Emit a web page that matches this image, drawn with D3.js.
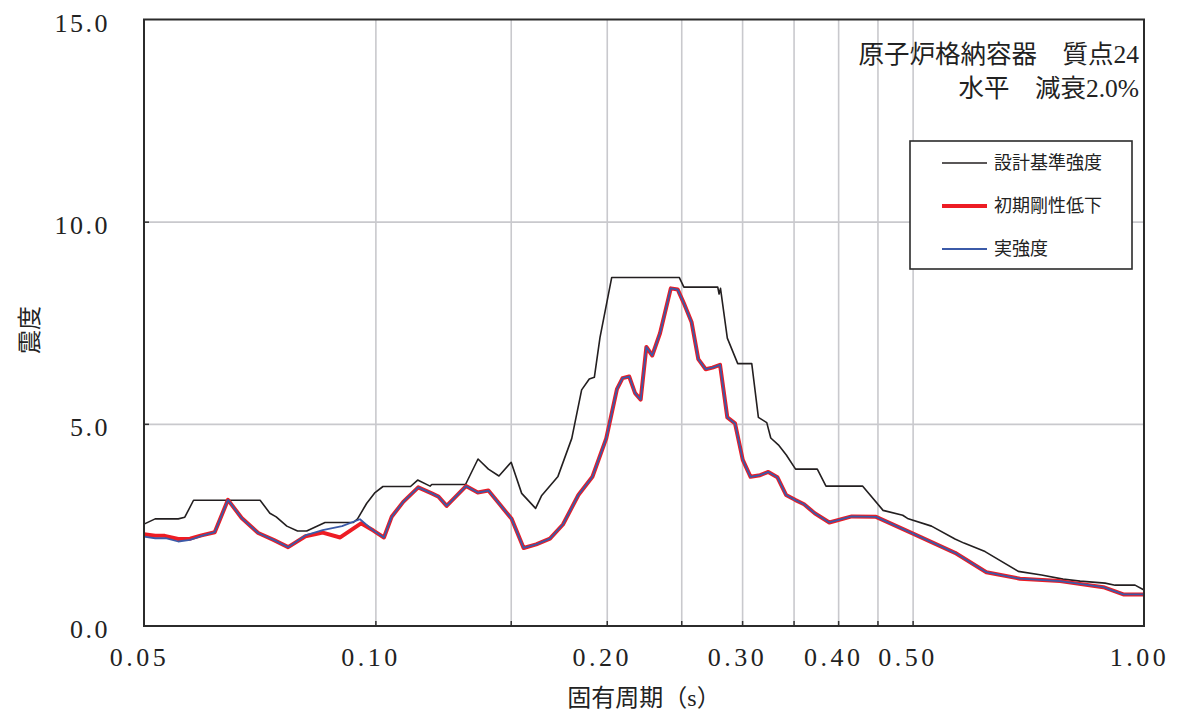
<!DOCTYPE html>
<html>
<head>
<meta charset="utf-8">
<script src="https://cdnjs.cloudflare.com/ajax/libs/d3/7.8.5/d3.min.js"></script>
<style>
  body { margin: 0; background: #fff; }
  svg text { fill: #222; }
  .num { font-family: "Liberation Serif", "Noto Sans CJK JP", serif; }
  .jp { font-family: "Liberation Serif", "Noto Sans CJK JP", sans-serif; }
</style>
</head>
<body>
<script>
// 設計基準強度
const designT = [0.05,0.0517,0.0554,0.0565,0.058,0.0708,0.0729,0.0743,0.0767,0.0792,0.0814,0.086,0.0936,0.0948,0.0974,0.0999,0.1023,0.1111,0.1135,0.1178,0.1184,0.131,0.136,0.1403,0.1448,0.1502,0.155,0.1616,0.1646,0.1728,0.1801,0.1855,0.1898,0.1927,0.196,0.203,0.2485,0.252,0.2789,0.28,0.2812,0.287,0.2961,0.3088,0.315,0.323,0.3269,0.3344,0.3425,0.3521,0.3758,0.3857,0.4303,0.4576,0.4854,0.4924,0.5291,0.5677,0.5832,0.6212,0.6862,0.7357,0.7847,0.8257,0.89,0.9171,0.9735,1.0];
const designV = [2.52,2.65,2.65,2.69,3.11,3.11,2.79,2.70,2.47,2.35,2.35,2.56,2.56,2.65,3.03,3.30,3.45,3.45,3.61,3.46,3.50,3.50,4.13,3.88,3.71,4.05,3.28,2.91,3.23,3.70,4.64,5.84,6.11,6.15,7.14,8.62,8.62,8.38,8.38,8.21,8.35,7.12,6.49,6.49,5.16,5.03,4.65,4.48,4.23,3.88,3.88,3.46,3.46,2.86,2.74,2.66,2.47,2.15,2.05,1.84,1.35,1.26,1.16,1.11,1.06,1.01,1.01,0.89];

// 初期剛性低下
const initialT = [0.05,0.0517,0.0532,0.0554,0.0574,0.0594,0.0618,0.0643,0.067,0.0704,0.0737,0.077,0.0811,0.0854,0.09,0.0958,0.0994,0.1026,0.105,0.1087,0.1137,0.1184,0.1208,0.1238,0.1312,0.1359,0.1403,0.1454,0.1504,0.1559,0.1619,0.1687,0.1754,0.1837,0.1916,0.1997,0.2062,0.2097,0.2139,0.2177,0.2214,0.2252,0.2292,0.2346,0.2423,0.2474,0.252,0.2579,0.2631,0.269,0.2745,0.2808,0.287,0.2937,0.3006,0.3077,0.3166,0.3245,0.3334,0.3422,0.3516,0.3612,0.3729,0.3896,0.4166,0.4481,0.4998,0.5677,0.6236,0.6898,0.7777,0.8855,0.94,1.0];
const initialV = [2.27,2.23,2.23,2.15,2.16,2.24,2.32,3.12,2.67,2.30,2.13,1.95,2.22,2.31,2.19,2.54,2.36,2.19,2.70,3.07,3.43,3.28,3.20,2.97,3.46,3.30,3.35,2.99,2.65,1.93,2.02,2.16,2.51,3.24,3.69,4.64,5.86,6.13,6.17,5.76,5.60,6.90,6.69,7.24,8.35,8.32,7.98,7.51,6.60,6.35,6.39,6.46,5.16,5.01,4.11,3.69,3.73,3.81,3.68,3.24,3.12,3.01,2.79,2.56,2.71,2.70,2.29,1.81,1.33,1.17,1.11,0.96,0.78,0.78];

// 実強度
const actualT = [0.05,0.0517,0.0535,0.0554,0.0574,0.0594,0.0618,0.0643,0.067,0.0704,0.0737,0.077,0.0811,0.0854,0.0905,0.0955,0.0994,0.1026,0.105,0.1087,0.1137,0.1184,0.1208,0.1238,0.1312,0.1359,0.1403,0.1454,0.1504,0.1559,0.1619,0.1687,0.1754,0.1837,0.1916,0.1997,0.2062,0.2097,0.2139,0.2177,0.2214,0.2252,0.2292,0.2346,0.2423,0.2474,0.252,0.2579,0.2631,0.269,0.2745,0.2808,0.287,0.2937,0.3006,0.3077,0.3166,0.3245,0.3334,0.3422,0.3516,0.3612,0.3729,0.3896,0.4166,0.4481,0.4998,0.5677,0.6236,0.6898,0.7777,0.8855,0.94,1.0];
const actualV = [2.21,2.17,2.17,2.09,2.13,2.23,2.32,3.12,2.67,2.30,2.13,1.95,2.24,2.37,2.47,2.64,2.36,2.19,2.70,3.07,3.43,3.28,3.20,2.97,3.46,3.30,3.35,2.99,2.65,1.93,2.02,2.16,2.51,3.24,3.69,4.64,5.86,6.13,6.17,5.76,5.60,6.90,6.69,7.24,8.35,8.32,7.98,7.51,6.60,6.35,6.39,6.46,5.16,5.01,4.11,3.69,3.73,3.81,3.68,3.24,3.12,3.01,2.79,2.56,2.71,2.70,2.29,1.81,1.33,1.17,1.11,0.96,0.78,0.78];

const gridT = [0.10,0.15,0.20,0.25,0.30,0.35,0.40,0.45,0.50];
const labelT = [0.05,0.10,0.20,0.30,0.40,0.50,1.00];
const gridY = [5,10];
const labelY = [0,5,10,15];
const legendNames = ['設計基準強度','初期剛性低下','実強度'];
const titleLines = ['原子炉格納容器　質点24','水平　減衰2.0%'];

const width = 1180, height = 720;
const pLeft = 144, pRight = 1144, pTop = 19.5, pBottom = 626;

const svg = d3.select('body').append('svg')
    .attr('width', width)
    .attr('height', height);

const x = d3.scaleLog().domain([0.05, 1]).range([pLeft, pRight]);
const y = d3.scaleLinear().domain([0, 15]).range([pBottom, pTop]);

// grid
svg.append('g')
    .attr('transform', 'translate(0,' + pBottom + ')')
    .call(d3.axisBottom(x).tickValues(gridT).tickSize(-(pBottom - pTop)).tickFormat(''))
    .call(g => g.select('.domain').remove())
    .call(g => g.selectAll('line').attr('stroke', '#c9c9cd').attr('stroke-width', 1.6));

svg.append('g')
    .attr('transform', 'translate(' + pLeft + ',0)')
    .call(d3.axisLeft(y).tickValues(gridY).tickSize(-(pRight - pLeft)).tickFormat(''))
    .call(g => g.select('.domain').remove())
    .call(g => g.selectAll('line').attr('stroke', '#c9c9cd').attr('stroke-width', 1.6));

// short inner ticks
svg.append('g')
    .attr('transform', 'translate(0,' + pBottom + ')')
    .call(d3.axisBottom(x).tickValues(gridT).tickSize(-5).tickFormat(''))
    .call(g => g.select('.domain').remove())
    .call(g => g.selectAll('line').attr('stroke', '#333').attr('stroke-width', 1.5));

svg.append('g')
    .attr('transform', 'translate(' + pLeft + ',0)')
    .call(d3.axisLeft(y).tickValues(gridY).tickSize(-5).tickFormat(''))
    .call(g => g.select('.domain').remove())
    .call(g => g.selectAll('line').attr('stroke', '#333').attr('stroke-width', 1.5));

// lines
const line = d3.line().x(d => x(d[0])).y(d => y(d[1]));
const series = [
  {T: designT, V: designV, color: '#231f20', w: 1.6},
  {T: initialT, V: initialV, color: '#ed1c24', w: 4},
  {T: actualT, V: actualV, color: '#3b5aa8', w: 1.8}
];
series.forEach(s => {
  svg.append('path')
      .datum(d3.zip(s.T, s.V))
      .attr('fill', 'none')
      .attr('stroke', s.color)
      .attr('stroke-width', s.w)
      .attr('stroke-linejoin', 'round')
      .attr('d', line);
});

// frame
svg.append('rect')
    .attr('x', pLeft).attr('y', pTop)
    .attr('width', pRight - pLeft).attr('height', pBottom - pTop)
    .attr('fill', 'none')
    .attr('stroke', '#2b2b2b')
    .attr('stroke-width', 2);

// tick labels
svg.append('g')
    .attr('transform', 'translate(0,' + pBottom + ')')
    .call(d3.axisBottom(x).tickValues(labelT).tickSize(0).tickPadding(22).tickFormat(d3.format('.2f')))
    .call(g => g.select('.domain').remove())
    .call(g => g.selectAll('text')
        .attr('class', 'num')
        .attr('font-size', 26)
        .attr('letter-spacing', 3.5)
        .attr('dx', -5)
        .attr('fill', '#222'));

svg.append('g')
    .attr('transform', 'translate(' + pLeft + ',0)')
    .call(d3.axisLeft(y).tickValues(labelY).tickSize(0).tickPadding(34).tickFormat(d3.format('.1f')))
    .call(g => g.select('.domain').remove())
    .call(g => g.selectAll('text')
        .attr('class', 'num')
        .attr('font-size', 26)
        .attr('letter-spacing', 2.5)
        .attr('dy', '0.45em')
        .attr('fill', '#222'));

// axis titles
svg.append('text')
    .attr('class', 'jp')
    .attr('x', 644).attr('y', 706)
    .attr('text-anchor', 'middle')
    .attr('font-size', 24)
    .text('固有周期（s）');

svg.append('text')
    .attr('class', 'jp')
    .attr('transform', 'translate(38,330) rotate(-90)')
    .attr('text-anchor', 'middle')
    .attr('font-size', 24)
    .text('震度');

// title
titleLines.forEach((t, i) => {
  svg.append('text')
      .attr('class', 'jp')
      .attr('x', 1139).attr('y', 63 + i * 34)
      .attr('text-anchor', 'end')
      .attr('font-size', 25.5)
      .text(t);
});

// legend
const legend = svg.append('g');
legend.append('rect')
    .attr('x', 910).attr('y', 141)
    .attr('width', 222).attr('height', 128)
    .attr('fill', '#fff')
    .attr('stroke', '#2b2b2b')
    .attr('stroke-width', 1.6);

legendNames.forEach((name, i) => {
  const s = series[i], ly = 163 + i * 43;
  legend.append('line')
      .attr('x1', 942).attr('x2', 987)
      .attr('y1', ly).attr('y2', ly)
      .attr('stroke', s.color)
      .attr('stroke-width', s.w);
  legend.append('text')
      .attr('class', 'jp')
      .attr('x', 994).attr('y', ly + 6)
      .attr('font-size', 18)
      .text(name);
});
</script>
</body>
</html>
